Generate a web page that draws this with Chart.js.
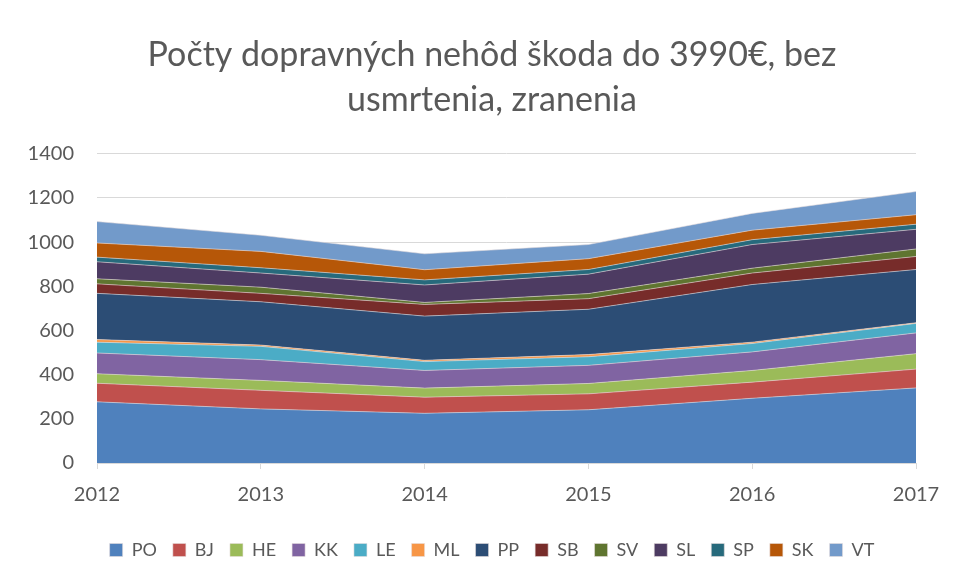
<!DOCTYPE html>
<html lang="sk">
<head>
    <meta charset="UTF-8">
    <title>Počty dopravných nehôd</title>
    <style>
        body { margin: 0; background: #fff; }
        #wrap { width: 957px; height: 579px; position: relative; }
    </style>
</head>
<body>
    <div id="wrap"><canvas id="chart"></canvas></div>

    <script src="https://cdn.jsdelivr.net/npm/chart.js"></script>
    <script>
        // roky
        const years = ['2012', '2013', '2014', '2015', '2016', '2017'];

        // hodnoty podľa okresov (odčítané z grafu)
        const PO = [277, 245, 225, 241, 293, 340];
        const BJ = [84, 84, 73, 72, 73, 85];
        const HE = [43, 45, 41, 47, 53, 70];
        const KK = [94, 94, 80, 82, 84, 94];
        const LE = [49, 60, 40, 39, 38, 43];
        const ML = [12, 6, 6, 10, 6, 3];
        const PP = [209, 196, 200, 205, 261, 241];
        const SB = [43, 38, 53, 48, 52, 59];
        const SV = [23, 28, 9, 23, 22, 34];
        const SL = [77, 64, 79, 88, 107, 89];
        const SP = [21, 24, 23, 21, 22, 23];
        const SK = [64, 74, 46, 49, 43, 43];
        const VT = [97, 73, 72, 64, 76, 105];

        const yTicks = [0, 200, 400, 600, 800, 1000, 1200, 1400];

        const series = [
            ['PO', PO, '#4F81BD'],
            ['BJ', BJ, '#C0504D'],
            ['HE', HE, '#9BBB59'],
            ['KK', KK, '#8064A2'],
            ['LE', LE, '#4BACC6'],
            ['ML', ML, '#F79646'],
            ['PP', PP, '#2C4D75'],
            ['SB', SB, '#772C2A'],
            ['SV', SV, '#5F7530'],
            ['SL', SL, '#4D3B62'],
            ['SP', SP, '#276A7C'],
            ['SK', SK, '#B65708'],
            ['VT', VT, '#729ACA']
        ];

        const textColor = '#595959';
        const gridColor = '#d9d9d9';

        // posunie nadpis a legendu trochu doprava (ako v Exceli)
        const shiftBoxes = {
            id: 'shiftBoxes',
            afterLayout(chart) {
                [chart.titleBlock, chart.legend].forEach(b => {
                    if (b) { b.left += 22; b.right += 22; }
                });
            }
        };

        new Chart(document.getElementById('chart'), {
            type: 'line',
            data: {
                labels: years,
                datasets: series.map(([name, values, color], i) => ({
                    label: name,
                    data: values,
                    backgroundColor: color,
                    borderColor: 'rgba(230,220,220,0.7)',
                    borderWidth: 0.8,
                    pointRadius: 0,
                    tension: 0,
                    fill: i === 0 ? 'origin' : '-1'
                }))
            },
            plugins: [shiftBoxes],
            options: {
                responsive: true,
                maintainAspectRatio: false,
                animation: false,
                layout: { padding: { left: 24, right: 41, top: 10, bottom: 10 } },
                plugins: {
                    title: {
                        display: true,
                        text: ['Počty dopravných nehôd škoda do 3990€, bez', 'usmrtenia, zranenia'],
                        color: textColor,
                        font: { family: 'Lato', size: 34, weight: 'normal', lineHeight: 1.32 },
                        padding: { top: 23, bottom: 31 }
                    },
                    legend: {
                        position: 'bottom',
                        labels: {
                            color: textColor,
                            boxWidth: 13,
                            boxHeight: 13,
                            padding: 16,
                            font: { family: 'Lato', size: 18 }
                        }
                    },
                    tooltip: { enabled: false }
                },
                scales: {
                    x: {
                        offset: false,
                        afterFit: axis => { axis.height = 62; },
                        grid: {
                            display: true,
                            drawOnChartArea: false,
                            drawTicks: true,
                            tickLength: 6,
                            color: gridColor
                        },
                        border: { color: gridColor },
                        ticks: {
                            color: textColor,
                            font: { family: 'Lato', size: 20 },
                            padding: 14,
                            maxRotation: 0
                        }
                    },
                    y: {
                        stacked: true,
                        min: 0,
                        max: 1400,
                        afterFit: axis => { axis.width = 73; },
                        afterBuildTicks: axis => { axis.ticks = yTicks.map(v => ({ value: v })); },
                        grid: { color: gridColor, drawTicks: false },
                        border: { display: false },
                        ticks: {
                            color: textColor,
                            font: { family: 'Lato', size: 20 },
                            padding: 23,
                            callback: v => String(v)
                        }
                    }
                }
            }
        });
    </script>
</body>
</html>
